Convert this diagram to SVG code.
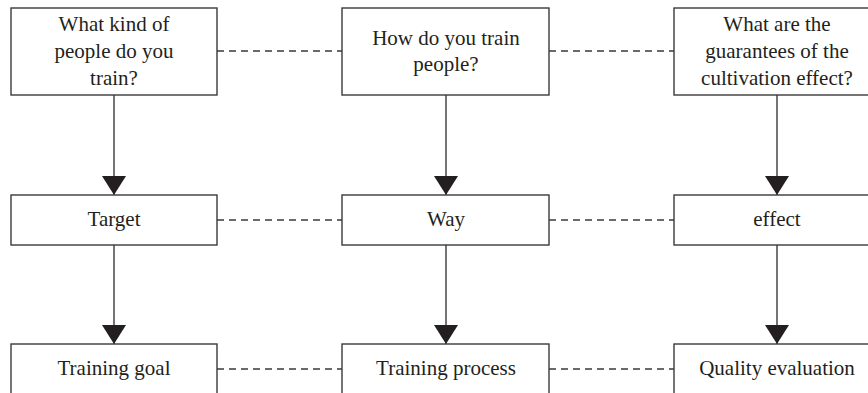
<svg xmlns="http://www.w3.org/2000/svg" width="868" height="393" viewBox="0 0 868 393">
<style>
.box{fill:#fff;stroke:#3a3a3a;stroke-width:1.4}
.t{font-family:"Liberation Serif","Times New Roman",serif;font-size:21px;fill:#231f20;text-anchor:middle}
.dash{stroke:#3a3a3a;stroke-width:1.3;stroke-dasharray:7 5;fill:none}
.arr{stroke:#3a3a3a;stroke-width:1.4;fill:none;marker-end:url(#ah)}
</style>
<defs>
<marker id="ah" markerUnits="userSpaceOnUse" markerWidth="24" markerHeight="24" refX="20" refY="12" orient="auto">
<path d="M1,0 L20,12 L1,24 Z" fill="#231f20"/>
</marker>
</defs>
<rect width="868" height="393" fill="#fff"/>
<g id="connectors">
<line class="dash" x1="217" y1="51" x2="342" y2="51"/>
<line class="dash" x1="549" y1="51" x2="674" y2="51"/>
<line class="dash" x1="217" y1="220" x2="342" y2="220"/>
<line class="dash" x1="549" y1="220" x2="674" y2="220"/>
<line class="dash" x1="217" y1="369" x2="342" y2="369"/>
<line class="dash" x1="549" y1="369" x2="674" y2="369"/>
<line class="arr" x1="114" y1="95" x2="114" y2="195"/>
<line class="arr" x1="446" y1="95" x2="446" y2="195"/>
<line class="arr" x1="777" y1="95" x2="777" y2="195"/>
<line class="arr" x1="114" y1="245" x2="114" y2="344"/>
<line class="arr" x1="446" y1="245" x2="446" y2="344"/>
<line class="arr" x1="777" y1="245" x2="777" y2="344"/>
</g>
<g id="q1"><rect class="box" x="11" y="8" width="206" height="87"/>
<text class="t" x="114" y="31">What kind of</text><text class="t" x="114" y="58">people do you</text><text class="t" x="114" y="85">train?</text></g>
<g id="q2"><rect class="box" x="342" y="8" width="207" height="87"/>
<text class="t" x="446" y="45">How do you train</text><text class="t" x="446" y="71">people?</text></g>
<g id="q3"><rect class="box" x="674" y="8" width="206" height="87"/>
<text class="t" x="777" y="31">What are the</text><text class="t" x="777" y="58">guarantees of the</text><text class="t" x="777" y="85">cultivation effect?</text></g>
<g id="target"><rect class="box" x="11" y="195" width="206" height="50"/><text class="t" x="114" y="226">Target</text></g>
<g id="way"><rect class="box" x="342" y="195" width="207" height="50"/><text class="t" x="446" y="226">Way</text></g>
<g id="effect"><rect class="box" x="674" y="195" width="206" height="50"/><text class="t" x="777" y="226">effect</text></g>
<g id="goal"><rect class="box" x="11" y="344" width="206" height="60"/><text class="t" x="114" y="375">Training goal</text></g>
<g id="process"><rect class="box" x="342" y="344" width="207" height="60"/><text class="t" x="446" y="375">Training process</text></g>
<g id="quality"><rect class="box" x="674" y="344" width="206" height="60"/><text class="t" x="777" y="375">Quality evaluation</text></g>
</svg>
